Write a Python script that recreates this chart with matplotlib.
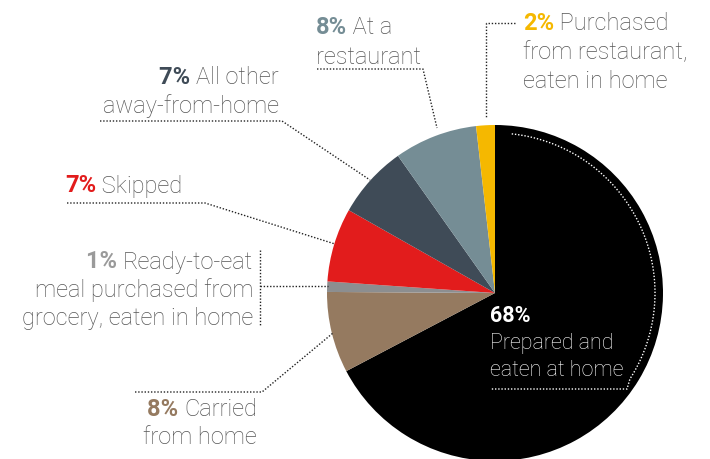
import matplotlib.pyplot as plt
import numpy as np

W, H = 710, 459

categories = ['Prepared and eaten at home', 'Carried from home',
              'Ready-to-eat meal purchased from grocery, eaten in home',
              'Skipped', 'All other away-from-home', 'At a restaurant',
              'Purchased from restaurant, eaten in home']
shares = [67.3, 7.8, 1.0, 7.1, 7.0, 8.0, 1.8]
pct_labels = ['68%', '8%', '1%', '7%', '7%', '8%', '2%']
label_lines = [
    ['Prepared and', 'eaten at home'],
    ['Carried', 'from home'],
    ['Ready-to-eat', 'meal purchased from', 'grocery, eaten in home'],
    ['Skipped'],
    ['All other', 'away-from-home'],
    ['At a', 'restaurant'],
    ['Purchased', 'from restaurant,', 'eaten in home'],
]
colors = ['#000000', '#957a60', '#8c8e90', '#e21c1c', '#3f4b57', '#758d95', '#f5b800']
pct_colors = ['#ffffff', '#957a60', '#9a9a9a', '#e21c1c', '#3f4b57', '#758d95', '#f5b800']

TXT = '#555555'
FS = 17
FS_IN = 15.5

# label placement in pixels (x, first line y, alignment, line step), y from top
layout = [
    (490, 316, 'left', 27),
    (257, 410, 'right', 28),
    (253, 262, 'right', 28),
    (65, 186, 'left', 29),
    (279, 77, 'right', 29),
    (316, 27, 'left', 30),
    (523, 24, 'left', 29),
]
leaders = [
    None,
    [(135, 392), (262, 392), (333, 333)],
    [(260, 250), (260, 326), None, (260, 286), (328, 286)],
    [(67, 203), (205, 203), (335, 244)],
    [(100, 121), (282, 121), (370, 180)],
    [(317, 69), (423, 69), (437, 128)],
    [(515, 23), (486, 23), (486, 118)],
]


def py(y):
    return H - y


plt.rcParams['font.family'] = ['Roboto', 'DejaVu Sans']

fig = plt.figure(figsize=(W / 100, H / 100), dpi=100)
ax = fig.add_axes([0, 0, 1, 1])

ax.pie(shares, colors=colors, startangle=90, counterclock=False,
       center=(495, py(293)), radius=168,
       wedgeprops=dict(linewidth=0))

ax.set_xlim(0, W)
ax.set_ylim(0, H)
ax.set_aspect('equal')
ax.axis('off')

dots = dict(color='#222222', lw=1, linestyle=(0, (1, 1.3)))

for pts in leaders:
    if pts is None:
        continue
    seg = []
    for p in pts + [None]:
        if p is None:
            if seg:
                ax.plot([q[0] for q in seg], [py(q[1]) for q in seg], **dots)
            seg = []
        else:
            seg.append(p)

for i, lines in enumerate(label_lines):
    x, y0, ha, step = layout[i]
    if i == 0:
        ax.text(x, py(y0), pct_labels[i], color='white', fontsize=FS_IN,
                fontweight='bold', ha='left', va='center')
        for k, line in enumerate(lines):
            ax.text(x, py(y0 + step * (k + 1)), line, color='white',
                    fontsize=FS_IN, fontweight='light', ha='left', va='center')
        continue
    for k, line in enumerate(lines):
        yy = py(y0 + step * k)
        if k == 0:
            if ha == 'left':
                t = ax.text(x, yy, pct_labels[i], color=pct_colors[i], fontsize=FS,
                            fontweight='bold', ha='left', va='center')
                ax.annotate(' ' + line, xy=(1, 0), xycoords=t, color=TXT,
                            fontsize=FS, fontweight='light', ha='left', va='bottom')
            else:
                t = ax.text(x, yy, line, color=TXT, fontsize=FS,
                            fontweight='light', ha='right', va='center')
                ax.annotate(pct_labels[i] + ' ', xy=(0, 0), xycoords=t,
                            color=pct_colors[i], fontsize=FS, fontweight='bold',
                            ha='right', va='bottom')
        else:
            ax.text(x, yy, line, color=TXT, fontsize=FS, fontweight='light',
                    ha=ha, va='center')

# white dotted bracket inside the big slice
ang = np.linspace(np.radians(84), np.radians(-34), 80)
arc_x = list(495 + 160 * np.cos(ang)) + [490]
arc_y = list(py(293) + 160 * np.sin(ang)) + [py(389)]
arc_x[-2] = 627
arc_y[-2] = py(389)
ax.plot(arc_x, arc_y, color='white', lw=1, linestyle=(0, (1, 1.3)))

fig.savefig('out.png', dpi=100)
